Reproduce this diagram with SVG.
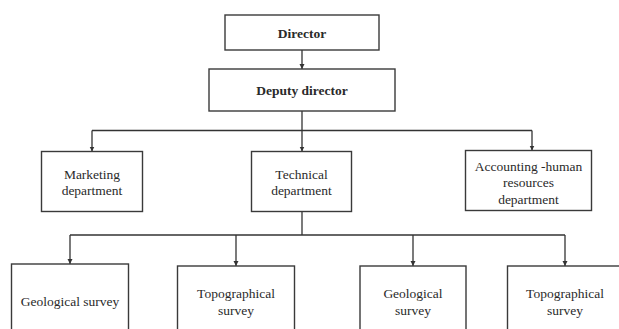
<svg xmlns="http://www.w3.org/2000/svg" width="619" height="329" viewBox="0 0 619 329">
<defs>
<marker id="ah" markerWidth="6" markerHeight="6" refX="5" refY="3" orient="auto" markerUnits="userSpaceOnUse">
<path d="M0,0.5 L5,3 L0,5.5 Z" fill="#333"/>
</marker>
<style>
.box{fill:#fff;stroke:#3a3a3a;stroke-width:1.4}
.t{font-family:"Liberation Serif","Times New Roman",serif;font-size:13.5px;fill:#2a2a2a;text-anchor:middle}
.b{font-weight:bold}
.c{fill:none;stroke:#333;stroke-width:1.3}
</style>
</defs>
<rect width="619" height="329" fill="#fff"/>
<g id="connectors">
<path class="c" d="M302,50 V69" marker-end="url(#ah)"/>
<path class="c" d="M302,111 V130.5"/>
<path class="c" d="M92,130.5 H532"/>
<path class="c" d="M92,130.5 V151.5" marker-end="url(#ah)"/>
<path class="c" d="M302,130.5 V151.5" marker-end="url(#ah)"/>
<path class="c" d="M532,130.5 V150.5" marker-end="url(#ah)"/>
<path class="c" d="M302,212 V235"/>
<path class="c" d="M70,235 H565"/>
<path class="c" d="M70,235 V264" marker-end="url(#ah)"/>
<path class="c" d="M236,235 V266" marker-end="url(#ah)"/>
<path class="c" d="M413,235 V266" marker-end="url(#ah)"/>
<path class="c" d="M565,235 V266" marker-end="url(#ah)"/>
</g>
<g id="director">
<rect class="box" x="225" y="15" width="154" height="35"/>
<text class="t b" x="302" y="38">Director</text>
</g>
<g id="deputy">
<rect class="box" x="209" y="69" width="186" height="42"/>
<text class="t b" x="302" y="95">Deputy director</text>
</g>
<g id="marketing">
<rect class="box" x="41.5" y="151.5" width="101" height="60"/>
<text class="t" x="92" y="178.5">Marketing</text>
<text class="t" x="92" y="195">department</text>
</g>
<g id="technical">
<rect class="box" x="251.5" y="151.5" width="100" height="60"/>
<text class="t" x="301.5" y="178.5">Technical</text>
<text class="t" x="301.5" y="195">department</text>
</g>
<g id="accounting">
<rect class="box" x="465.5" y="150.5" width="126" height="60"/>
<text class="t" x="528.5" y="170.5">Accounting -human</text>
<text class="t" x="528.5" y="187">resources</text>
<text class="t" x="528.5" y="204">department</text>
</g>
<g id="geo1">
<rect class="box" x="11.5" y="264" width="117" height="80"/>
<text class="t" x="70" y="306">Geological survey</text>
</g>
<g id="topo1">
<rect class="box" x="177.5" y="266" width="117" height="80"/>
<text class="t" x="236" y="298">Topographical</text>
<text class="t" x="236" y="315">survey</text>
</g>
<g id="geo2">
<rect class="box" x="360" y="266" width="106" height="80"/>
<text class="t" x="413" y="298">Geological</text>
<text class="t" x="413" y="315">survey</text>
</g>
<g id="topo2">
<rect class="box" x="507.5" y="266" width="115" height="80"/>
<text class="t" x="565" y="298">Topographical</text>
<text class="t" x="565" y="315">survey</text>
</g>
</svg>
